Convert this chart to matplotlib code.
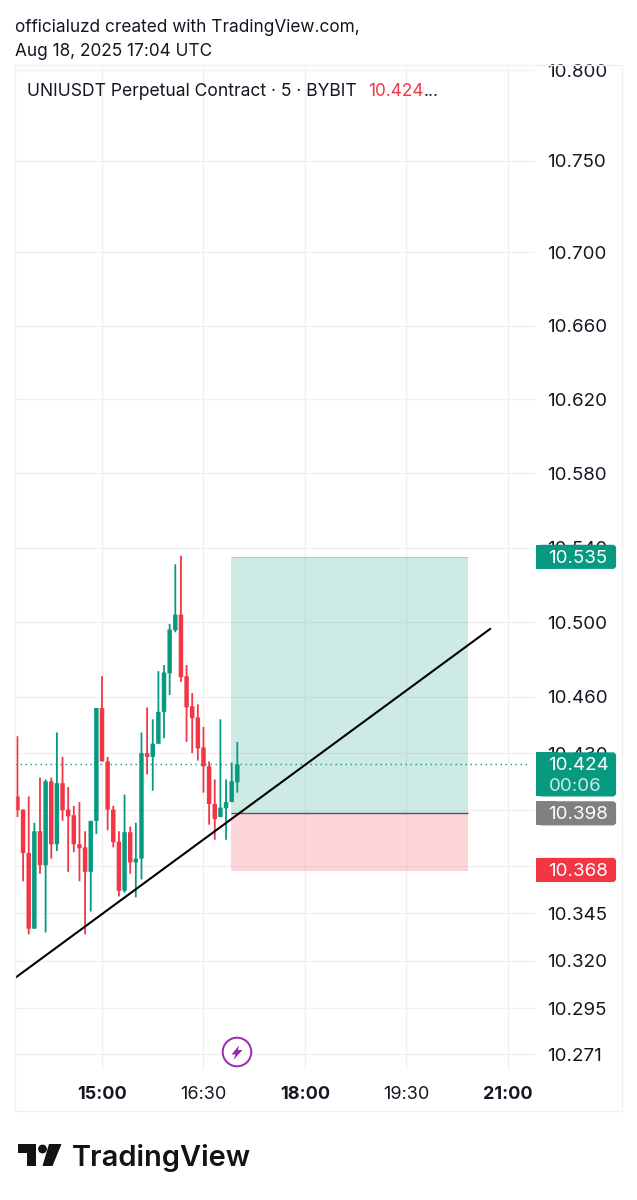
import numpy as np
import matplotlib
matplotlib.use("Agg")
import matplotlib.pyplot as plt
from matplotlib.patches import Rectangle, FancyBboxPatch, Polygon, Circle

plt.rcParams['font.family'] = ['Inter', 'DejaVu Sans']

# 5 minute bars, first one at 13:45
first_bar = 13.75
bar_hours = 5 / 60

opens = [10.407, 10.400, 10.377, 10.337, 10.3885, 10.3705, 10.415, 10.3816, 10.414, 10.400,
         10.397, 10.3816, 10.380, 10.367, 10.394, 10.454, 10.4256, 10.400, 10.383, 10.357,
         10.388, 10.372, 10.374, 10.430, 10.428, 10.435, 10.452, 10.4726, 10.4956, 10.504,
         10.471, 10.455, 10.449, 10.433, 10.423, 10.403, 10.396, 10.4007, 10.404, 10.4145]
highs = [10.439, 10.400, 10.407, 10.393, 10.417, 10.416, 10.417, 10.441, 10.428, 10.412,
         10.402, 10.404, 10.3885, 10.394, 10.454, 10.471, 10.428, 10.402, 10.3885, 10.408,
         10.391, 10.393, 10.441, 10.4544, 10.448, 10.4737, 10.477, 10.499, 10.531, 10.5356,
         10.477, 10.462, 10.456, 10.444, 10.4256, 10.416, 10.448, 10.416, 10.425, 10.436]
lows = [10.396, 10.362, 10.334, 10.337, 10.366, 10.335, 10.374, 10.378, 10.394, 10.367,
        10.3774, 10.362, 10.334, 10.346, 10.387, 10.4256, 10.389, 10.380, 10.354, 10.356,
        10.366, 10.3535, 10.363, 10.4187, 10.410, 10.435, 10.438, 10.461, 10.4945, 10.468,
        10.436, 10.430, 10.426, 10.409, 10.392, 10.384, 10.396, 10.384, 10.404, 10.409]
closes = [10.3996, 10.377, 10.337, 10.3885, 10.3705, 10.415, 10.3816, 10.414, 10.3996, 10.3964,
          10.3816, 10.3795, 10.367, 10.394, 10.454, 10.4256, 10.400, 10.3827, 10.357, 10.388,
          10.372, 10.374, 10.430, 10.428, 10.435, 10.452, 10.473, 10.496, 10.504, 10.4705,
          10.4544, 10.4486, 10.4325, 10.423, 10.403, 10.395, 10.401, 10.404, 10.415, 10.424]

# 10.430, 10.400 and 10.370 sit (partly) behind the price tags
price_ticks = [10.800, 10.750, 10.700, 10.660, 10.620, 10.580, 10.540, 10.500, 10.460, 10.430,
               10.400, 10.370, 10.345, 10.320, 10.295, 10.271]
time_ticks = [15, 16.5, 18, 19.5, 21]
time_labels = ['15:00', '16:30', '18:00', '19:30', '21:00']
time_bold = [True, False, True, False, True]

last_price = 10.424
entry_price = 10.398
target_price = 10.535
stop_price = 10.368
pos_start, pos_end = 16.906, 20.408
trend_t = [13.714, 20.748]
trend_p = [10.311, 10.4966]

GREEN = '#089981'
RED = '#F23645'
INK = '#131722'
GRID = '#F0F0F3'

W, H = 637, 1200
fig = plt.figure(figsize=(W / 100, H / 100), dpi=100, facecolor='white')
ax = fig.add_axes([15 / W, 1 - 1070 / H, 520 / W, 1005 / H])

ax.set_yscale('log')
ax.set_xlim(13.714, 21.40)
ax.set_ylim(10.2627, 10.80276)

# ticks + grid
ax.set_yticks(price_ticks, [f'{t:.3f}' for t in price_ticks])
ax.set_yticks([], minor=True)
ax.yaxis.tick_right()
ax.set_xticks(time_ticks, time_labels)
ax.tick_params(axis='y', length=0, pad=9, labelsize=13.5, labelcolor=INK)
ax.tick_params(axis='x', length=0, pad=11.5, labelsize=13, labelcolor=INK)
for lab, bold in zip(ax.get_xticklabels(), time_bold):
    lab.set_fontweight('bold' if bold else 'normal')
ax.grid(True, color=GRID, lw=1)
ax.set_axisbelow(True)
for s in ax.spines.values():
    s.set_visible(False)

# long position box
ax.add_patch(Rectangle((pos_start, entry_price), pos_end - pos_start, target_price - entry_price,
                       facecolor=GREEN, alpha=0.2, edgecolor='none', zorder=1.6))
ax.add_patch(Rectangle((pos_start, stop_price), pos_end - pos_start, entry_price - stop_price,
                       facecolor=RED, alpha=0.2, edgecolor='none', zorder=1.6))
ax.hlines([target_price, stop_price], pos_start, pos_end, colors=[GREEN, RED], lw=0.5, alpha=0.35, zorder=1.7)
ax.hlines(entry_price, pos_start, pos_end, colors='#555555', lw=1, zorder=1.7)

# candles, no snapping so the spacing stays even
t = first_bar + np.arange(len(opens)) * bar_hours
opens = np.array(opens)
closes = np.array(closes)
colors = [GREEN if c >= o else RED for o, c in zip(opens, closes)]
wicks = ax.vlines(t, lows, highs, colors=colors, lw=1.3, zorder=3)
wicks.set_snap(False)
bars = ax.bar(t, np.abs(closes - opens), bottom=np.minimum(opens, closes), width=0.066,
              color=colors, linewidth=0, zorder=3.1)
for b in bars:
    b.set_snap(False)

ax.plot(trend_t, trend_p, color='black', lw=1.5, zorder=4, solid_capstyle='butt')
ax.plot([13.714, 21.33], [last_price, last_price], color=GREEN, lw=1, ls=(0, (1, 2.6)), zorder=2.5)

# overlay in pixels for everything that is not on the price scale
ov = fig.add_axes([0, 0, 1, 1], facecolor='none')
ov.set_xlim(0, W)
ov.set_ylim(H, 0)
ov.axis('off')


def price_y(p):
    return H - ax.transData.transform((0, p))[1]


ov.add_patch(Rectangle((15, 65), 607, 1046, fill=False, edgecolor=GRID, lw=1))


def tag(p, color, top=12, height=24):
    y = price_y(p) - top
    ov.add_patch(Rectangle((536, y), 20, height, facecolor=color, edgecolor='none', zorder=5))
    ov.add_patch(FancyBboxPatch((540, y + 2), 74, height - 4, boxstyle='round,pad=0,rounding_size=1.5',
                                mutation_aspect=1, facecolor=color, edgecolor=color, lw=3, zorder=5))
    ov.text(548.5, price_y(p) + 1.5, f'{p:.3f}', color='white', fontsize=13.5, va='center', zorder=6)


tag(target_price, GREEN)
tag(last_price, GREEN, top=12, height=44)
ov.text(548.5, price_y(last_price) + 22, '00:06', color='#CDEBE5', fontsize=13.5, va='center', zorder=6)
tag(entry_price, '#808080')
tag(stop_price, RED)

# header
ov.text(15, 28, 'officialuzd created with TradingView.com,', fontsize=12.4, color=INK, va='center')
ov.text(15, 52, 'Aug 18, 2025 17:04 UTC', fontsize=12.4, color=INK, va='center')
ov.text(27, 92, 'UNIUSDT Perpetual Contract · 5 · BYBIT', fontsize=12.6, color=INK, va='center')
ov.text(368, 92, '10.424', fontsize=12.4, color=RED, va='center')
ov.text(424, 92, '...', fontsize=12.4, color=INK, va='center')

# lightning icon
ov.add_patch(Circle((237, 1052), 14.3, facecolor='white', edgecolor='#9C27B0', lw=1.4, zorder=5))
ov.add_patch(Polygon([(239, 1045.5), (231.5, 1054.5), (235.5, 1054.5), (233.5, 1060), (242.5, 1050), (238, 1050)],
                     facecolor='#9C27B0', edgecolor='none', zorder=6))

# logo
LOGO = '#131313'
ov.add_patch(Polygon([(18, 1144), (36, 1144), (36, 1166), (27, 1166), (27, 1153), (18, 1153)],
                     facecolor=LOGO, edgecolor='none'))
ov.add_patch(Circle((42.5, 1149), 4.4, facecolor=LOGO, edgecolor='none'))
ov.add_patch(Polygon([(49, 1144), (61.5, 1144), (52.5, 1166), (42.5, 1166)], facecolor=LOGO, edgecolor='none'))
ov.text(71.5, 1158, 'TradingView', fontsize=20.9, fontweight='semibold', color=LOGO, va='center')

fig.savefig('out.png', dpi=100, facecolor='white')
